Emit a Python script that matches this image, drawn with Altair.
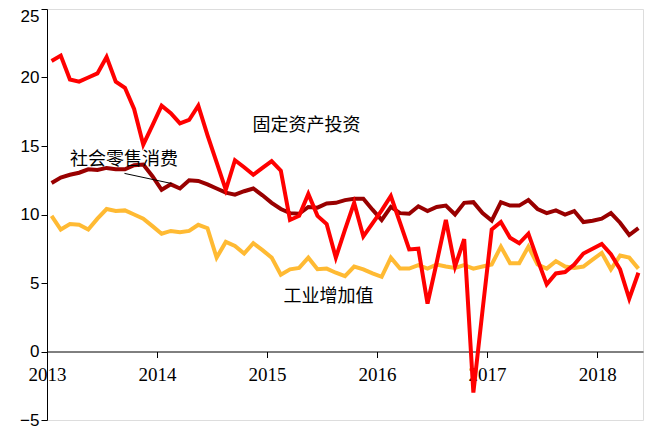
import altair as alt
import pandas as pd

# monthly index 0 = Jan 2013 ... 64 = May 2018
fai = [21.2, 21.6, 19.85, 19.7, 20.0, 20.3, 21.5, 19.7, 19.25, 17.7, 15.1, 16.5,
       17.95, 17.4, 16.65, 16.9, 17.95, 15.8, 13.8, 11.8, 13.96, 13.45, 12.9, 13.4,
       13.9, 13.2, 9.6, 9.9, 11.5, 9.9, 9.3, 6.85, 8.9, 10.85, 8.4, 9.35,
       10.3, 11.35, 9.4, 7.45, 7.5, 3.5, 6.5, 9.6, 6.2, 8.2, -3.0, 3.0,
       8.9, 9.45, 8.3, 7.9, 8.6, 6.7, 4.9, 5.7, 5.8, 6.35, 7.15, 7.5,
       7.85, 7.1, 6.0, 3.85, 5.75]
retail = [12.3, 12.7, 12.9, 13.05, 13.3, 13.25, 13.4, 13.3, 13.3, 13.6, 13.65, 12.8,
          11.8, 12.2, 11.9, 12.5, 12.45, 12.2, 11.9, 11.6, 11.45, 11.7, 11.9, 11.4,
          10.85, 10.4, 10.1, 10.05, 10.55, 10.5, 10.8, 10.85, 11.05, 11.15, 11.15, 10.35,
          9.6, 10.55, 10.1, 10.05, 10.6, 10.25, 10.55, 10.65, 10.0, 10.85, 10.9, 10.1,
          9.55, 10.9, 10.65, 10.65, 11.05, 10.4, 10.1, 10.3, 10.0, 10.25, 9.45, 9.55,
          9.7, 10.1, 9.4, 8.5, 9.0]
industry = [9.9, 8.9, 9.3, 9.25, 8.9, 9.7, 10.4, 10.25, 10.3, 10.0, 9.7, 9.15,
            8.6, 8.8, 8.7, 8.8, 9.25, 9.0, 6.85, 8.0, 7.7, 7.15, 7.9, 7.4,
            6.85, 5.6, 6.0, 6.1, 6.85, 6.0, 6.05, 5.75, 5.5, 6.2, 6.0, 5.7,
            5.45, 6.85, 6.05, 6.05, 6.3, 6.05, 6.35, 6.2, 6.1, 6.3, 6.05, 6.2,
            6.35, 7.65, 6.45, 6.45, 7.65, 6.35, 6.05, 6.6, 6.2, 6.1, 6.2, 6.7,
            7.2, 6.0, 7.0, 6.85, 6.05]

series_names = ["工业增加值", "社会零售消费", "固定资产投资"]
series_colors = ["#FFBA33", "#990000", "#FF0000"]
year_ticks = [0, 12, 24, 36, 48, 60]
y_ticks = [-5, 0, 5, 10, 15, 20, 25]

label_text = ["固定资产投资", "社会零售消费", "工业增加值"]
label_x = [28.3, 8.4, 30.7]
label_y = [16.45, 14.0, 3.95]

leader_x, leader_y, leader_x2, leader_y2 = [8.45], [13.0], [13.6], [12.26]

rows = []
for k, (name, vals) in enumerate(zip(series_names, [industry, retail, fai])):
    for i, v in enumerate(vals):
        rows.append({"series": name, "m": i + 0.5, "v": v, "k": k})
df = pd.DataFrame(rows)

labels_df = pd.DataFrame({"t": label_text, "m": label_x, "v": label_y})
leader_df = pd.DataFrame({"m": leader_x, "v": leader_y, "m2": leader_x2, "v2": leader_y2})

xscale = alt.Scale(domain=[0, 65], nice=False, zero=False)
yscale = alt.Scale(domain=[-5, 25], nice=False, zero=False)

lines = alt.Chart(df).mark_line(strokeWidth=4).encode(
    x=alt.X("m:Q", scale=xscale, title=None,
            axis=alt.Axis(values=year_ticks, labelExpr="'' + (2013 + datum.value / 12)",
                          offset=-68.5, grid=False, tickSize=6, labelPadding=8,
                          labelFont="Liberation Serif", labelFontSize=19,
                          labelColor="black", domainColor="black", tickColor="black",
                          labelFlush=False, labelOverlap=False)),
    y=alt.Y("v:Q", scale=yscale, title=None,
            axis=alt.Axis(values=y_ticks, grid=False, tickSize=6, labelPadding=2,
                          labelFont="Liberation Sans", labelFontSize=17,
                          labelOffset=alt.condition("datum.value == 25", alt.value(7), alt.value(0)),
                          labelColor="black", domainColor="black", tickColor="black")),
    color=alt.Color("series:N", scale=alt.Scale(domain=series_names, range=series_colors),
                    legend=None),
    detail="k:O",
)

texts = alt.Chart(labels_df).mark_text(
    font="Noto Sans CJK SC", fontSize=18, color="black", align="center", baseline="middle"
).encode(x=alt.X("m:Q", scale=xscale), y=alt.Y("v:Q", scale=yscale), text="t:N")

leader = alt.Chart(leader_df).mark_rule(color="black", strokeWidth=1).encode(
    x=alt.X("m:Q", scale=xscale), y=alt.Y("v:Q", scale=yscale), x2="m2:Q", y2="v2:Q"
)

chart = alt.layer(lines, leader, texts).properties(
    width=596, height=411,
    autosize=alt.AutoSizeParams(type="none"),
    padding={"left": 39, "top": 1, "right": 2, "bottom": 9},
).configure_view(stroke=None).configure(background="white")

chart.save("out.html", embed_options={"renderer": "svg", "actions": False})
